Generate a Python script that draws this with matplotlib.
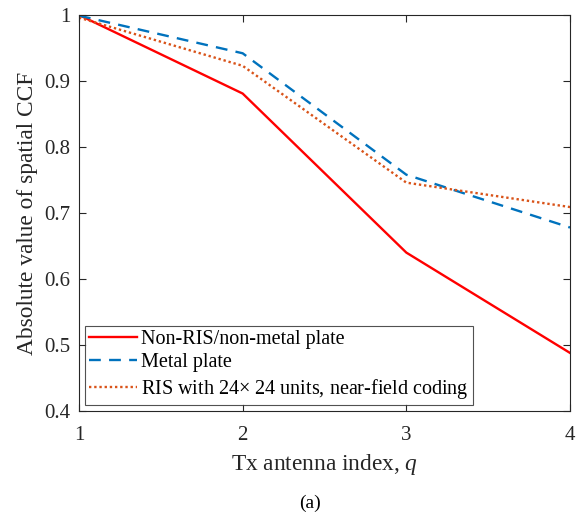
import matplotlib
matplotlib.use("Agg")
import matplotlib.pyplot as plt

plt.rcParams["font.family"] = ["Liberation Serif", "DejaVu Serif"]
plt.rcParams["mathtext.fontset"] = "custom"
plt.rcParams["mathtext.rm"] = "Liberation Serif"
plt.rcParams["mathtext.it"] = "Liberation Serif:italic"

# data
tx_index = [1, 2, 3, 4]
ccf_no_ris = [1.0, 0.881, 0.640, 0.488]
ccf_metal = [0.999, 0.942, 0.758, 0.678]
ccf_ris = [0.996, 0.923, 0.746, 0.709]

labels = [
    "Non-RIS/non-metal plate",
    "Metal plate",
    r"RIS with 24$\times$ 24 units, near-field coding",
]

fig = plt.figure(figsize=(5.77, 5.12), dpi=100)
ax = fig.add_axes([79 / 577, 1 - 411 / 512, (570 - 79) / 577, (411 - 15) / 512])

ax.plot(tx_index, ccf_no_ris, color="#FF0000", lw=1.7, label=labels[0])
ax.plot(tx_index, ccf_metal, color="#0072BD", lw=1.7, ls=(0, (5, 3.5)), label=labels[1])
ax.plot(tx_index, ccf_ris, color="#D95319", lw=1.7, ls=(0, (1, 1.2)), label=labels[2])

ax.set_xlim(1, 4)
ax.set_ylim(0.4, 1.0)
ax.set_xticks([1, 2, 3, 4])
ax.set_yticks([0.4, 0.5, 0.6, 0.7, 0.8, 0.9, 1.0])
ax.set_yticklabels(["0.4", "0.5", "0.6", "0.7", "0.8", "0.9", "1"])
ax.tick_params(direction="in", top=True, right=True, labelsize=15, length=5,
               color="#262626", labelcolor="#262626", pad=6)
ax.tick_params(axis="x", pad=11)
for s in ax.spines.values():
    s.set_color("#262626")
    s.set_linewidth(0.8)

ax.set_xlabel(r"Tx antenna index, $q$", fontsize=16.8, color="#262626", labelpad=5)
ax.set_ylabel("Absolute value of spatial CCF", fontsize=16.8, color="#262626", labelpad=5)

leg = ax.legend(loc="lower left", fontsize=14.5, frameon=True, fancybox=False,
                edgecolor="#262626", handlelength=2.4, handletextpad=0.2,
                borderpad=0.2, labelspacing=0.22, borderaxespad=0.3)
leg.get_frame().set_linewidth(0.8)

fig.text(310 / 577, 1 - 503 / 512, "(a)", ha="center", va="center", fontsize=14)

fig.savefig("out.png", dpi=100)
